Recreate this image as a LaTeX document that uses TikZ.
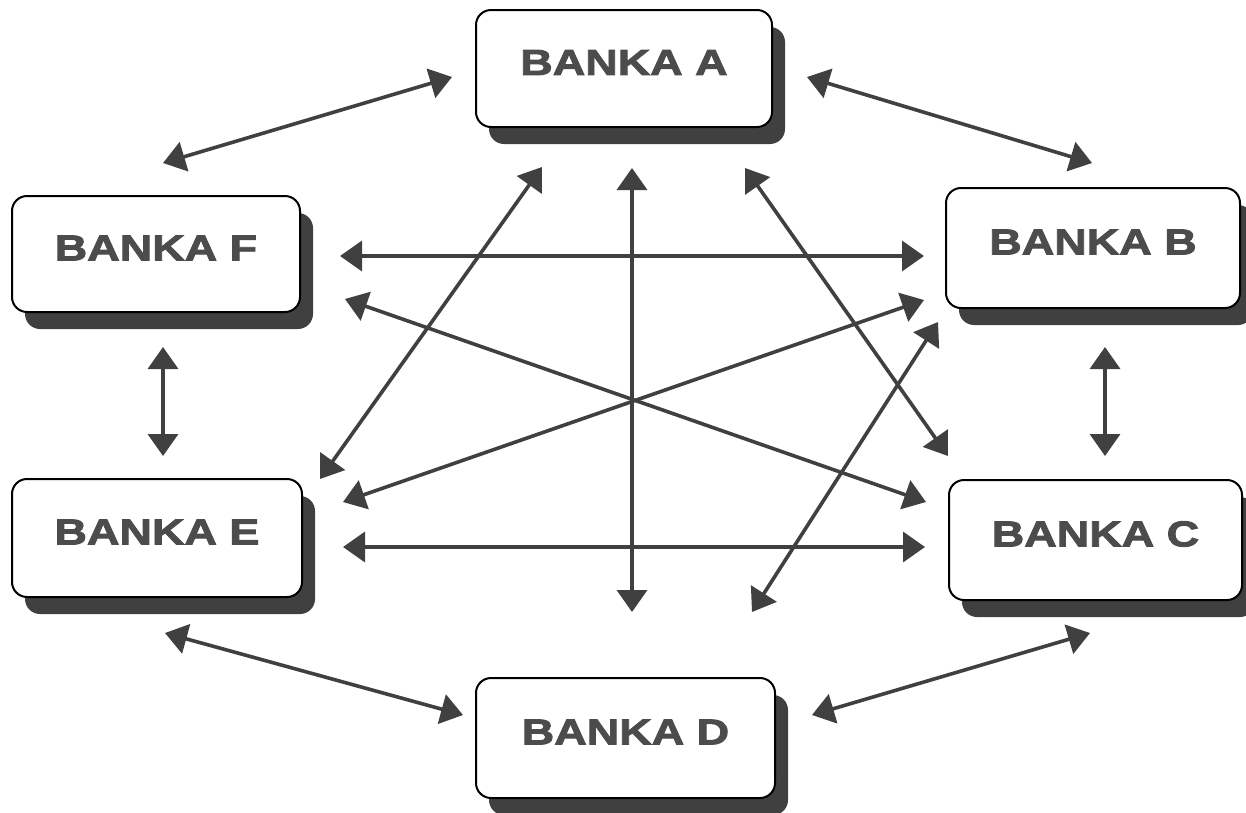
\documentclass[tikz,border=0pt]{standalone}
\usepackage{fontspec}
\setmainfont{Liberation Sans}
\usetikzlibrary{arrows.meta}
\newfontfamily\bankfont[FakeStretch=1.25,FakeBold=2.5]{Liberation Sans Bold}
\definecolor{shadowgray}{gray}{0.25}
\definecolor{arrowgray}{gray}{0.25}
\definecolor{textgray}{gray}{0.3}
\tikzset{
  bank/.style={draw=black, line width=2pt, rounded corners=15pt, fill=white},
  bankshadow/.style={fill=shadowgray, rounded corners=15pt},
  banktext/.style={text=textgray, font=\bankfont\fontsize{36}{36}\selectfont, inner sep=0pt},
  link/.style={draw=arrowgray, line width=3.6pt,
    {Triangle[length=22pt,width=30pt,fill=arrowgray]}-{Triangle[length=22pt,width=30pt,fill=arrowgray]}},
}
\newcommand{\bank}[6]{%
  \fill[bankshadow] (#2+13,#3+17) rectangle (#4+13,#5+17);
  \draw[bank] (#2,#3) rectangle (#4,#5);
  \node[banktext] (#1) at ({(#2+#4)/2},{(#3+#5)/2-6}) {#6};
}
\begin{document}
\begin{tikzpicture}[x=1pt,y=-1pt]
\useasboundingbox (0,0) rectangle (1246,812);
\bank{A}{476}{10}{772}{127}{BANKA A}
\bank{B}{946}{188}{1240}{308}{BANKA B}
\bank{C}{949}{480}{1242}{600}{BANKA C}
\bank{D}{476}{678}{775}{798}{BANKA D}
\bank{E}{12}{479}{302}{597}{BANKA E}
\bank{F}{12}{196}{300}{312}{BANKA F}
% arrow end points
\coordinate (af1) at (163,163); \coordinate (af2) at (452,77);
\coordinate (ab1) at (807,77);  \coordinate (ab2) at (1092,163);
\coordinate (fb1) at (340,256); \coordinate (fb2) at (924,256);
\coordinate (fc1) at (345,299); \coordinate (fc2) at (926,502);
\coordinate (eb1) at (343,502); \coordinate (eb2) at (924,300);
\coordinate (ec1) at (343,547); \coordinate (ec2) at (925,547);
\coordinate (ae1) at (542,167); \coordinate (ae2) at (320,479);
\coordinate (ac1) at (745,168); \coordinate (ac2) at (948,456);
\coordinate (ad1) at (632,168); \coordinate (ad2) at (632,612);
\coordinate (bd1) at (938,322); \coordinate (bd2) at (752,612);
\coordinate (fe1) at (163,347); \coordinate (fe2) at (163,456);
\coordinate (bc1) at (1105,347); \coordinate (bc2) at (1105,456);
\coordinate (ed1) at (165,633); \coordinate (ed2) at (463,715);
\coordinate (cd1) at (1090,633); \coordinate (cd2) at (812,715);
\foreach \p in {af,ab,fb,fc,eb,ec,ae,ac,ad,bd,fe,bc,ed,cd}{
  \draw[link] (\p1) -- (\p2);
}
\end{tikzpicture}
\end{document}
